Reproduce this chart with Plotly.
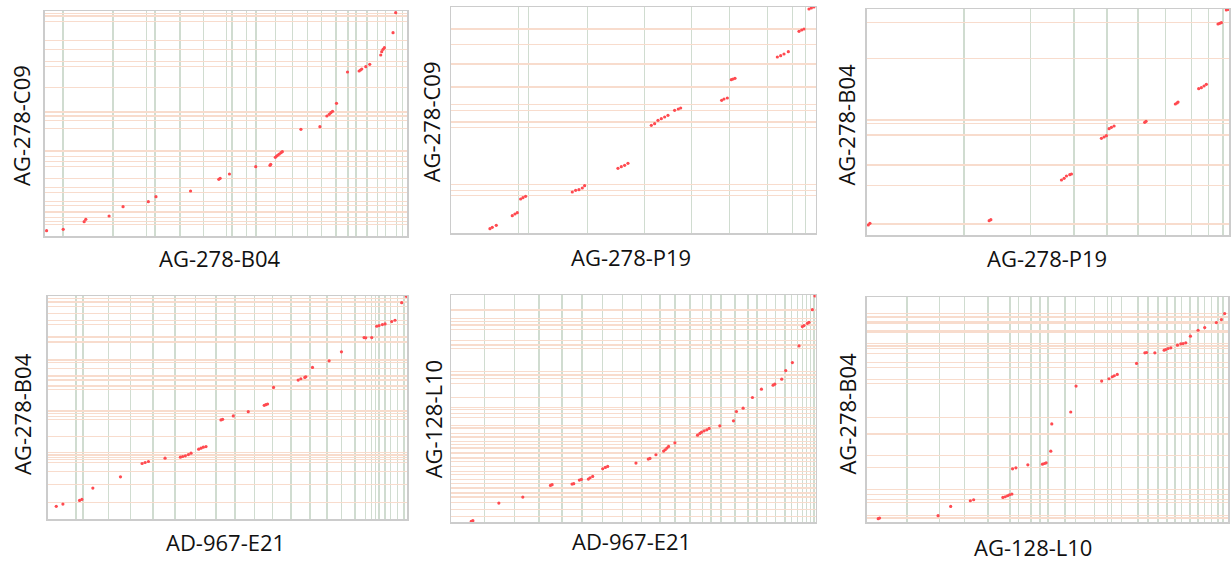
import plotly.graph_objects as go

W_PX, H_PX = 1231, 561

# ---------------- data (positions along each genome, arbitrary units) ----------------
# Panel 1: AG-278-B04 (x) vs AG-278-C09 (y)
p1_xlen, p1_ylen = 1090, 675
p1_xbreaks = [55, 205, 305, 331, 407, 477, 546, 562, 607, 635, 693, 745, 790, 832, 875, 912, 935, 968, 1000, 1025, 1057, 1075]
p1_ybreaks = [668, 660, 643, 586, 560, 523, 508, 445, 372, 360, 346, 323, 255, 238, 224, 208, 173, 146, 130, 104, 92, 72, 55, 43, 35]
p1_x = [5, 55, 118, 123, 193, 235, 311, 334, 438, 523, 527, 555, 634, 677, 679, 693, 697, 701, 705, 710, 714, 770, 827, 848, 855, 860, 865, 877, 910, 945, 949, 953, 965, 977, 1010, 1013, 1017, 1021, 1047, 1055]
p1_y = [16, 20, 43, 50, 60, 88, 103, 118, 135, 170, 173, 186, 208, 212, 215, 236, 240, 243, 246, 250, 253, 320, 328, 360, 365, 370, 374, 398, 492, 495, 498, 501, 508, 515, 543, 553, 560, 565, 610, 670]

# Panel 2: AG-278-P19 (x) vs AG-278-C09 (y)
p2_xlen, p2_ylen = 1093, 678
p2_xbreaks = [201, 231, 409, 580, 721, 835, 948, 1023, 1063]
p2_ybreaks = [612, 565, 507, 438, 385, 368, 333, 317, 145, 128, 112]
p2_x = [116, 123, 135, 183, 191, 198, 208, 215, 223, 363, 373, 383, 393, 400, 500, 510, 520, 530, 600, 610, 620, 630, 640, 650, 670, 681, 688, 811, 818, 828, 840, 845, 851, 978, 988, 998, 1011, 1043, 1051, 1058, 1073, 1080, 1088]
p2_y = [13, 17, 23, 52, 57, 61, 102, 106, 110, 123, 128, 130, 135, 142, 194, 199, 203, 209, 323, 328, 338, 343, 348, 353, 368, 372, 375, 398, 402, 405, 460, 462, 464, 528, 532, 537, 544, 605, 609, 612, 672, 675, 678]

# Panel 3: AG-278-P19 (x) vs AG-278-B04 (y)
p3_xlen, p3_ylen = 1088, 678
p3_xbreaks = [292, 492, 622, 722, 815, 898, 975, 1027, 1070]
p3_ybreaks = [637, 529, 345, 335, 300, 210, 149, 33]
p3_x = [5, 10, 368, 373, 585, 593, 600, 610, 615, 705, 713, 720, 728, 735, 743, 835, 839, 927, 932, 935, 997, 1005, 1013, 1020, 1055, 1060, 1065, 1080, 1085]
p3_y = [30, 35, 43, 46, 165, 170, 177, 181, 183, 290, 294, 298, 319, 323, 327, 338, 341, 393, 396, 399, 439, 442, 447, 452, 633, 635, 637, 675, 677]

# Panel 4: AD-967-E21 (x) vs AG-278-B04 (y)
p4_xlen, p4_ylen = 1080, 671
p4_xbreaks = [85, 105, 182, 248, 315, 382, 443, 505, 562, 620, 675, 730, 787, 838, 882, 923, 955, 973, 985, 995, 1013, 1030, 1050, 1070]
p4_ybreaks = [663, 653, 640, 618, 598, 585, 548, 533, 478, 470, 453, 430, 418, 400, 390, 325, 318, 308, 300, 248, 200, 193, 186, 178, 170, 143, 103, 50]
p4_x = [25, 45, 95, 102, 135, 218, 283, 292, 302, 352, 398, 405, 413, 422, 430, 453, 460, 467, 475, 520, 525, 557, 602, 650, 655, 660, 678, 752, 760, 772, 775, 795, 845, 882, 950, 955, 973, 988, 995, 1005, 1013, 1033, 1043, 1063, 1077]
p4_y = [38, 45, 56, 59, 93, 127, 167, 170, 173, 183, 186, 188, 190, 194, 198, 210, 213, 216, 218, 298, 300, 310, 323, 342, 344, 346, 396, 418, 422, 426, 428, 456, 476, 503, 546, 545, 546, 580, 582, 585, 587, 594, 598, 651, 670]

# Panel 5: AD-967-E21 (x) vs AG-128-L10 (y)
p5_xlen, p5_ylen = 1095, 682
p5_xbreaks = [100, 190, 263, 332, 393, 455, 515, 572, 627, 672, 718, 755, 780, 810, 853, 892, 918, 947, 975, 1003, 1022, 1040, 1055, 1068, 1080, 1090]
p5_ybreaks = [637, 612, 602, 592, 579, 545, 532, 522, 452, 442, 432, 417, 375, 345, 337, 327, 315, 289, 282, 265, 255, 242, 232, 222, 207, 192, 182, 167, 152, 142, 127, 115, 102, 87, 75, 59, 37, 17]
p5_x = [60, 65, 143, 215, 298, 303, 363, 368, 385, 391, 412, 417, 425, 455, 463, 470, 555, 592, 597, 615, 638, 643, 648, 653, 672, 740, 747, 752, 760, 768, 775, 807, 848, 857, 877, 905, 932, 967, 972, 993, 1005, 1025, 1045, 1055, 1060, 1070, 1075, 1085, 1093]
p5_y = [2, 4, 57, 75, 110, 112, 114, 115, 126, 128, 129, 133, 137, 160, 164, 167, 177, 189, 191, 202, 213, 217, 222, 227, 238, 261, 266, 270, 274, 277, 281, 289, 304, 332, 342, 374, 399, 411, 414, 429, 455, 479, 529, 587, 590, 597, 600, 638, 679]

# Panel 6: AG-128-L10 (x) vs AG-278-B04 (y)
p6_xlen, p6_ylen = 1087, 677
p6_xbreaks = [122, 219, 294, 365, 432, 457, 494, 522, 545, 597, 629, 685, 724, 737, 767, 817, 847, 877, 904, 927, 947, 972, 997, 1017, 1037, 1057, 1072]
p6_ybreaks = [627, 617, 602, 597, 577, 572, 537, 530, 522, 507, 480, 465, 429, 417, 314, 265, 200, 165, 97, 82, 67, 59, 19, 12]
p6_x = [35, 39, 215, 253, 312, 322, 410, 417, 424, 430, 437, 439, 449, 485, 529, 535, 540, 554, 557, 614, 630, 707, 729, 739, 745, 754, 812, 837, 842, 867, 895, 900, 907, 915, 935, 945, 952, 960, 974, 997, 1017, 1052, 1067, 1077]
p6_y = [10, 12, 19, 47, 64, 67, 74, 76, 79, 82, 84, 160, 163, 172, 174, 176, 178, 213, 295, 331, 409, 424, 431, 437, 440, 444, 477, 509, 510, 509, 517, 519, 522, 524, 532, 536, 537, 539, 559, 577, 585, 600, 609, 627]

x_labels = ["AG-278-B04", "AG-278-P19", "AG-278-P19", "AD-967-E21", "AD-967-E21", "AG-128-L10"]
y_labels = ["AG-278-C09", "AG-278-C09", "AG-278-B04", "AG-278-B04", "AG-128-L10", "AG-278-B04"]

# ---------------- layout (window-pixel boxes of each panel) ----------------
boxes = [  # x0, x1, y0(top), y1(bottom)
    (45, 408, 11, 236),
    (452, 817, 7, 233),
    (868, 1231, 9, 235),
    (48, 408, 296, 519),
    (452, 817, 295, 522),
    (868, 1230, 297, 522),
]
xtitle_pos = [(220, 258), (632, 257), (1049, 258), (226, 542), (633, 541), (1035, 547)]
ytitle_pos = [(21, 125), (432, 122), (847, 125), (22, 414), (434, 419), (848, 414)]

panels = [
    (p1_xlen, p1_ylen, p1_xbreaks, p1_ybreaks, p1_x, p1_y),
    (p2_xlen, p2_ylen, p2_xbreaks, p2_ybreaks, p2_x, p2_y),
    (p3_xlen, p3_ylen, p3_xbreaks, p3_ybreaks, p3_x, p3_y),
    (p4_xlen, p4_ylen, p4_xbreaks, p4_ybreaks, p4_x, p4_y),
    (p5_xlen, p5_ylen, p5_xbreaks, p5_ybreaks, p5_x, p5_y),
    (p6_xlen, p6_ylen, p6_xbreaks, p6_ybreaks, p6_x, p6_y),
]

VGRID = "#d0dcd0"
HGRID = "#f8dccd"
DOT = "#ff4a50"
FONT = "Open Sans"


def fx(p):
    return p / W_PX


def fy(p):
    return 1 - p / H_PX


fig = go.Figure()
layout = dict(
    width=W_PX, height=H_PX,
    margin=dict(l=0, r=0, t=0, b=0),
    paper_bgcolor="white", plot_bgcolor="white",
    showlegend=False,
    hovermode=False,
    annotations=[],
)

for i, (xlen, ylen, xb, yb, xs, ys) in enumerate(panels):
    n = i + 1
    xa = "xaxis" if n == 1 else f"xaxis{n}"
    ya = "yaxis" if n == 1 else f"yaxis{n}"
    xr = "x" if n == 1 else f"x{n}"
    yr = "y" if n == 1 else f"y{n}"
    x0, x1, yt, ybot = boxes[i]
    fig.add_trace(go.Scatter(
        x=xs, y=ys, mode="markers", xaxis=xr, yaxis=yr,
        marker=dict(size=3.2, color=DOT, line=dict(width=0)),
        hoverinfo="skip",
    ))
    layout[xa] = dict(
        domain=[max(0, fx(x0)), min(1, fx(x1))], anchor=yr, range=[0, xlen],
        tickmode="array", tickvals=sorted(xb), showticklabels=False, ticks="",
        showgrid=True, gridcolor=VGRID, gridwidth=1.5, zeroline=False,
        showline=True, mirror=True, linecolor="#cccccc", linewidth=1.5,
        fixedrange=True,
    )
    layout[ya] = dict(
        domain=[max(0, fy(ybot)), min(1, fy(yt))], anchor=xr, range=[0, ylen],
        tickmode="array", tickvals=sorted(yb), showticklabels=False, ticks="",
        showgrid=True, gridcolor=HGRID, gridwidth=1.3, zeroline=False,
        showline=True, mirror=True, linecolor="#cccccc", linewidth=1.5,
        fixedrange=True,
    )
    tx, ty = xtitle_pos[i]
    layout["annotations"].append(dict(
        text=x_labels[i], x=fx(tx), y=fy(ty), xref="paper", yref="paper",
        xanchor="center", yanchor="middle", showarrow=False,
        font=dict(family=FONT, size=22, color="#111111"),
    ))
    sx, sy = ytitle_pos[i]
    layout["annotations"].append(dict(
        text=y_labels[i], x=fx(sx), y=fy(sy), xref="paper", yref="paper",
        xanchor="center", yanchor="middle", showarrow=False, textangle=-90,
        font=dict(family=FONT, size=22, color="#111111"),
    ))

fig.update_layout(**layout)
fig.write_html(
    "out.html",
    config={"displayModeBar": False, "staticPlot": True},
    post_script="document.body.style.margin='0';document.body.style.overflow='hidden';",
)
